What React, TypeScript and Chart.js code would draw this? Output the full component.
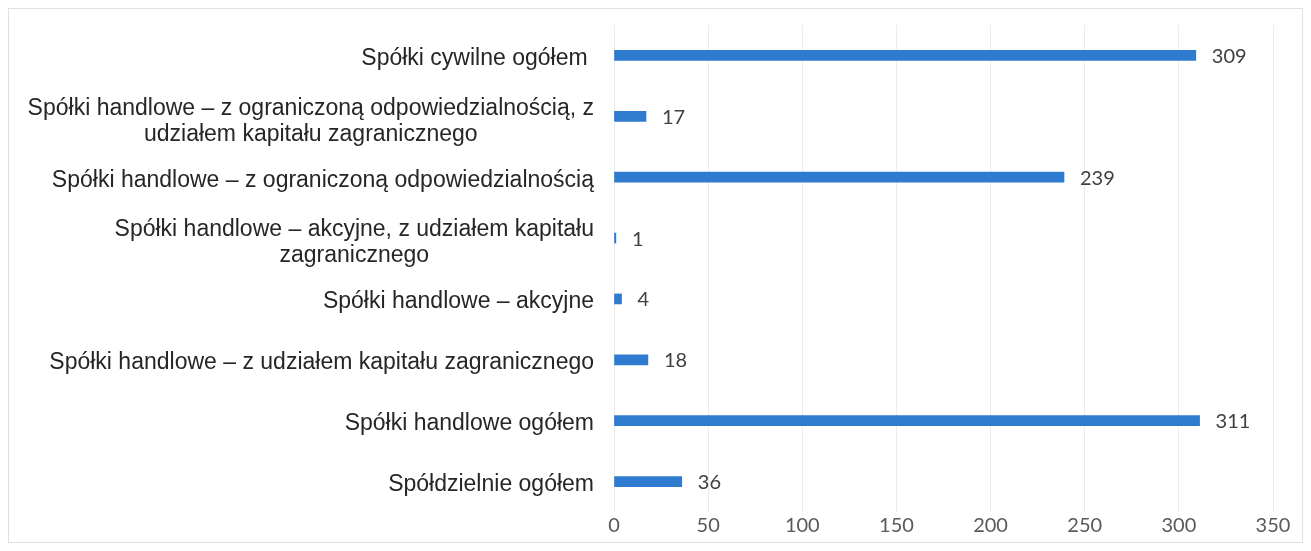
import React, { useEffect, useRef } from "react";
import { Chart, registerables } from "chart.js";

Chart.register(...registerables);

const categories: string[][] = [
  ["Spółki cywilne ogółem "],
  ["Spółki handlowe – z ograniczoną odpowiedzialnością, z", "udziałem kapitału zagranicznego"],
  ["Spółki handlowe – z ograniczoną odpowiedzialnością"],
  ["Spółki handlowe – akcyjne, z udziałem kapitału", "zagranicznego"],
  ["Spółki handlowe – akcyjne"],
  ["Spółki handlowe – z udziałem kapitału zagranicznego"],
  ["Spółki handlowe ogółem"],
  ["Spółdzielnie ogółem"],
];

const values: number[] = [309, 17, 239, 1, 4, 18, 311, 36];

const xMin = 0;
const xMax = 350;
const xStep = 50;

const BAR_COLOR = "#2E7BCF";
const LABEL_FONT = '23px "Liberation Sans", Arial, sans-serif';
const NUM_FONT = '20px Lato, "Open Sans", sans-serif';

const labelPlugin = {
  id: "customLabels",
  afterDraw(chart: any) {
    const ctx = chart.ctx as CanvasRenderingContext2D;
    const yScale = chart.scales.y;
    const meta = chart.getDatasetMeta(0);
    ctx.save();
    ctx.font = LABEL_FONT;
    ctx.fillStyle = "#262626";
    ctx.textBaseline = "middle";
    ctx.textAlign = "center";
    const rightEdge = chart.chartArea.left - 20;
    const lineH = 26;
    categories.forEach((lines, i) => {
      const yc = yScale.getPixelForValue(i) + (lines.length > 1 ? 5 : 3);
      const w = Math.max(...lines.map((l) => ctx.measureText(l).width));
      const cx = rightEdge - w / 2;
      const startY = yc - ((lines.length - 1) * lineH) / 2;
      lines.forEach((l, j) => {
        ctx.fillText(l, cx, startY + j * lineH);
      });
    });
    ctx.font = NUM_FONT;
    ctx.fillStyle = "#404040";
    ctx.textAlign = "left";
    meta.data.forEach((bar: any, i: number) => {
      ctx.fillText(String(values[i]), bar.x + 16, bar.y + 1);
    });
    ctx.restore();
  },
};

export default function App() {
  const canvasRef = useRef<HTMLCanvasElement | null>(null);

  useEffect(() => {
    if (!canvasRef.current) return;
    const chart = new Chart(canvasRef.current, {
      type: "bar",
      data: {
        labels: categories.map((c) => c.join(" ")),
        datasets: [
          {
            data: values,
            backgroundColor: BAR_COLOR,
            borderWidth: 0,
            barThickness: 10,
          },
        ],
      },
      options: {
        indexAxis: "y",
        animation: false,
        responsive: true,
        maintainAspectRatio: false,
        layout: { padding: { top: 16, bottom: 2, left: 0, right: 29 } },
        plugins: {
          legend: { display: false },
          tooltip: { enabled: false },
        },
        scales: {
          x: {
            min: xMin,
            max: xMax,
            ticks: {
              stepSize: xStep,
              padding: 2,
              color: "#595959",
              font: { family: 'Lato, "Open Sans", sans-serif', size: 20 },
            },
            grid: { color: "#ececec", drawTicks: false },
            border: { display: false },
          },
          y: {
            ticks: { display: false },
            grid: { display: false },
            border: { display: false },
            afterFit(scale: any) {
              scale.width = 605;
            },
          },
        },
      },
      plugins: [labelPlugin],
    });
    return () => chart.destroy();
  }, []);

  return (
    <div
      style={{
        position: "relative",
        height: 535,
        border: "1px solid #e0e0e0",
        boxSizing: "border-box",
        background: "#fff",
      }}
    >
      <canvas ref={canvasRef} />
    </div>
  );
}
